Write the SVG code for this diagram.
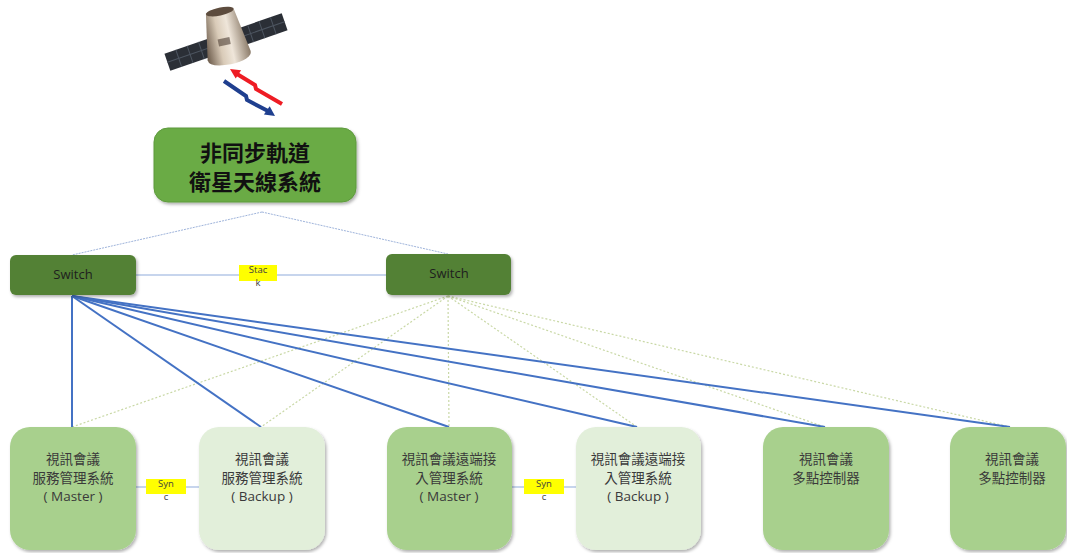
<svg xmlns="http://www.w3.org/2000/svg" width="1067" height="553" viewBox="0 0 1067 553">
  <defs>
    <filter id="shadow" x="-10%" y="-10%" width="125%" height="125%">
      <feDropShadow dx="1.5" dy="2" stdDeviation="1.5" flood-color="#000" flood-opacity="0.3"/>
    </filter>
    <linearGradient id="capsule" x1="0" y1="0" x2="1" y2="0">
      <stop offset="0" stop-color="#6b5a4a"/>
      <stop offset="0.35" stop-color="#d9cbb8"/>
      <stop offset="0.6" stop-color="#efe6da"/>
      <stop offset="1" stop-color="#8a7a68"/>
    </linearGradient>
    <style>
      .cjk { font-family: "Noto Sans CJK TC", "Noto Sans CJK SC", sans-serif; }
      .lat { font-family: "Open Sans", "Noto Sans", "Noto Sans CJK TC", sans-serif; }
      .top { fill: #6aab45; stroke: #5e9a3d; stroke-width: 1; }
      .sw { fill: #538135; }
      .mid { fill: #a8d08d; }
      .light { fill: #e2efda; }
      .uplink { stroke: #9fb4db; stroke-width: 1; stroke-dasharray: 2 1; fill: none; }
      .trunk { stroke: #b4c7e7; stroke-width: 1.5; fill: none; }
      .primary { stroke: #4472c4; stroke-width: 2; fill: none; }
      .secondary { stroke: #c9d8a6; stroke-width: 1.2; stroke-dasharray: 2 2; fill: none; }
      .tag { fill: #ffff00; }
      .tagtxt { font-size: 9.5px; fill: #404040; text-anchor: middle; }
      .nodetxt { font-size: 13.5px; fill: #3a3a3a; text-anchor: middle; }
      .bolt { fill: none; stroke-width: 4; stroke-linejoin: miter; }
    </style>
  </defs>

  <rect width="1067" height="553" fill="#ffffff"/>

  <!-- satellite -->
  <g id="satellite">
    <g transform="translate(226,42) rotate(-19)">
      <rect x="-62" y="-9" width="124" height="18" fill="#2b2f36"/>
      <g stroke="#4d5560" stroke-width="1">
        <line x1="-50" y1="-9" x2="-50" y2="9"/>
        <line x1="-38" y1="-9" x2="-38" y2="9"/>
        <line x1="-26" y1="-9" x2="-26" y2="9"/>
        <line x1="26" y1="-9" x2="26" y2="9"/>
        <line x1="38" y1="-9" x2="38" y2="9"/>
        <line x1="50" y1="-9" x2="50" y2="9"/>
        <line x1="-62" y1="0" x2="62" y2="0"/>
      </g>
    </g>
    <g transform="translate(225,36) rotate(-12)">
      <path d="M-14,-26 Q0,-32 14,-26 L22,20 Q22,28 0,29 Q-22,28 -22,20 Z" fill="url(#capsule)"/>
      <ellipse cx="0" cy="-25" rx="14" ry="4" fill="#5d4c3e"/>
      <rect x="-8" y="2" width="12" height="7" fill="#4c3e33" opacity="0.6"/>
    </g>
  </g>

  <!-- signal arrows -->
  <g id="signal">
    <polyline class="bolt" stroke="#ee1c24" points="237,74 255,85 256,89 282,104"/>
    <polygon fill="#ee1c24" points="230,69 235.7,78.6 241.1,70.2"/>
    <polyline class="bolt" stroke="#1f3f8f" points="224,81 246,96 247,100 268,111"/>
    <polygon fill="#1f3f8f" points="275,116 263.9,114.4 269.7,106.2"/>
  </g>

  <!-- connectors -->
  <g id="connectors">
    <line class="uplink" x1="262" y1="212" x2="72" y2="255"/>
    <line class="uplink" x1="262" y1="212" x2="448" y2="254"/>
    <line class="trunk" x1="136" y1="275" x2="386" y2="275"/>
    <line class="trunk" x1="136" y1="487" x2="199" y2="487"/>
    <line class="trunk" x1="512" y1="487" x2="576" y2="487"/>

    <line class="secondary" x1="448" y1="296" x2="72" y2="427"/>
    <line class="secondary" x1="448" y1="296" x2="261" y2="427"/>
    <line class="secondary" x1="448" y1="296" x2="449" y2="427"/>
    <line class="secondary" x1="448" y1="296" x2="637" y2="427"/>
    <line class="secondary" x1="448" y1="296" x2="825" y2="427"/>
    <line class="secondary" x1="448" y1="296" x2="1010" y2="427"/>

    <line class="primary" x1="72" y1="296" x2="72" y2="427"/>
    <line class="primary" x1="72" y1="296" x2="261" y2="427"/>
    <line class="primary" x1="72" y1="296" x2="449" y2="427"/>
    <line class="primary" x1="72" y1="296" x2="637" y2="427"/>
    <line class="primary" x1="72" y1="296" x2="825" y2="427"/>
    <line class="primary" x1="72" y1="296" x2="1010" y2="427"/>

    <g id="stack-tag">
      <rect class="tag" x="239" y="265" width="38" height="16"/>
      <text class="lat tagtxt" x="258" y="273">Stac</text>
      <text class="lat tagtxt" x="258" y="286">k</text>
    </g>
    <g id="sync-tag-1">
      <rect class="tag" x="146" y="479" width="40" height="15"/>
      <text class="lat tagtxt" x="166" y="487">Syn</text>
      <text class="lat tagtxt" x="166" y="500">c</text>
    </g>
    <g id="sync-tag-2">
      <rect class="tag" x="524" y="479" width="40" height="15"/>
      <text class="lat tagtxt" x="544" y="487">Syn</text>
      <text class="lat tagtxt" x="544" y="500">c</text>
    </g>
  </g>

  <!-- antenna system -->
  <g id="antenna">
    <rect class="top" x="154" y="128" width="202" height="74" rx="14" filter="url(#shadow)"/>
    <text class="cjk" x="255" y="161" font-size="22" font-weight="bold" fill="#111" text-anchor="middle">非同步軌道</text>
    <text class="cjk" x="255" y="190" font-size="22" font-weight="bold" fill="#111" text-anchor="middle">衛星天線系統</text>
  </g>

  <!-- switches -->
  <g id="switch-a">
    <rect class="sw" x="10" y="255" width="126" height="40" rx="6" filter="url(#shadow)"/>
    <text class="lat" x="73" y="279" font-size="13" fill="#1e1e1e" text-anchor="middle">Switch</text>
  </g>
  <g id="switch-b">
    <rect class="sw" x="386" y="254" width="125" height="41" rx="6" filter="url(#shadow)"/>
    <text class="lat" x="449" y="278" font-size="13" fill="#1e1e1e" text-anchor="middle">Switch</text>
  </g>

  <!-- conference systems -->
  <g id="sms-master">
    <rect class="mid" x="10" y="427" width="126" height="123" rx="20" filter="url(#shadow)"/>
    <text class="cjk nodetxt" x="73" y="464">視訊會議</text>
    <text class="cjk nodetxt" x="73" y="483">服務管理系統</text>
    <text class="lat nodetxt" x="73" y="501">( Master )</text>
  </g>
  <g id="sms-backup">
    <rect class="light" x="199" y="427" width="126" height="123" rx="20" filter="url(#shadow)"/>
    <text class="cjk nodetxt" x="262" y="464">視訊會議</text>
    <text class="cjk nodetxt" x="262" y="483">服務管理系統</text>
    <text class="lat nodetxt" x="262" y="501">( Backup )</text>
  </g>
  <g id="ram-master">
    <rect class="mid" x="387" y="427" width="125" height="123" rx="20" filter="url(#shadow)"/>
    <text class="cjk nodetxt" x="449" y="464">視訊會議遠端接</text>
    <text class="cjk nodetxt" x="449" y="483">入管理系統</text>
    <text class="lat nodetxt" x="449" y="501">( Master )</text>
  </g>
  <g id="ram-backup">
    <rect class="light" x="576" y="427" width="125" height="123" rx="20" filter="url(#shadow)"/>
    <text class="cjk nodetxt" x="638" y="464">視訊會議遠端接</text>
    <text class="cjk nodetxt" x="638" y="483">入管理系統</text>
    <text class="lat nodetxt" x="638" y="501">( Backup )</text>
  </g>
  <g id="mcu-1">
    <rect class="mid" x="763" y="427" width="126" height="123" rx="20" filter="url(#shadow)"/>
    <text class="cjk nodetxt" x="826" y="464">視訊會議</text>
    <text class="cjk nodetxt" x="826" y="483">多點控制器</text>
  </g>
  <g id="mcu-2">
    <rect class="mid" x="950" y="427" width="116" height="123" rx="20" filter="url(#shadow)"/>
    <text class="cjk nodetxt" x="1012" y="464">視訊會議</text>
    <text class="cjk nodetxt" x="1012" y="483">多點控制器</text>
  </g>
</svg>
